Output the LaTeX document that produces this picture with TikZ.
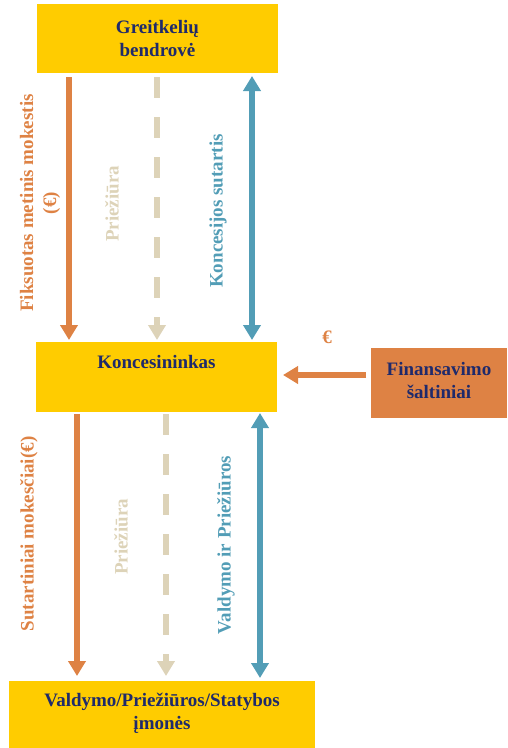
\documentclass[tikz,border=0pt]{standalone}
\usepackage{fontspec}
\setmainfont{Liberation Serif}
\usetikzlibrary{arrows.meta}
\definecolor{boxyellow}{HTML}{FFCC00}
\definecolor{navy}{HTML}{1F2A6B}
\definecolor{orng}{HTML}{DE8244}
\definecolor{beige}{HTML}{DDD3B8}
\definecolor{teal}{HTML}{529DB6}
\tikzset{
  ybox/.style={fill=boxyellow, draw=none, inner sep=0pt},
  btext/.style={font=\fontsize{19}{23}\selectfont\bfseries, text=navy, align=center, inner sep=0pt},
  lbl/.style={font=\fontsize{19}{23}\selectfont\bfseries, align=center, inner sep=0pt, rotate=90},
  arr/.style={line width=6pt, -{Triangle[width=17pt,length=15pt]}},
  darr/.style={line width=6pt, {Triangle[width=17pt,length=15pt]}-{Triangle[width=17pt,length=15pt]}},
  dasharr/.style={line width=6pt, dash pattern=on 21pt off 19pt, -{Triangle[width=17pt,length=15pt]}}
}
\begin{document}
\begin{tikzpicture}[x=1pt,y=-1pt]
\useasboundingbox (0,0) rectangle (507,748);
% boxes
\fill[boxyellow] (37,4) rectangle (278,73);
\node[btext] (gb) at (157.5,38.5) {Greitkelių\\bendrovė};
\coordinate (gbOr) at (69,77);
\coordinate (gbBe) at (157,77);
\coordinate (gbBl) at (252,76);
\fill[boxyellow] (36,342) rectangle (277,412);
\node[btext] (kon) at (156.5,362) {Koncesininkas};
\coordinate (konOrT) at (69,340);
\coordinate (konBeT) at (157,340);
\coordinate (konBlT) at (252,340);
\coordinate (konOrB) at (77,414);
\coordinate (konBeB) at (166,414);
\coordinate (konBlB) at (260,413);
\coordinate (konR) at (283,375);
\fill[boxyellow] (9,681) rectangle (315,748);
\node[btext] (vps) at (162,713) {Valdymo/Priežiūros/Statybos\\įmonės};
\coordinate (vpsOr) at (77,676);
\coordinate (vpsBe) at (166,676);
\coordinate (vpsBl) at (260,678);
\fill[orng] (371,348) rectangle (507,418);
\node[btext] (fin) at (439,380) {Finansavimo\\šaltiniai};
\coordinate (finL) at (366,375);
% arrows top
\draw[arr, orng] (gbOr) -- (konOrT);
\draw[dasharr, beige] (gbBe) -- (konBeT);
\draw[darr, teal] (gbBl) -- (konBlT);
% arrows bottom
\draw[arr, orng] (konOrB) -- (vpsOr);
\draw[dasharr, beige] (konBeB) -- (vpsBe);
\draw[darr, teal] (konBlB) -- (vpsBl);
% horizontal
\draw[arr, orng] (finL) -- (konR);
% labels
\node[lbl, text=orng] (l1) at (40,203) {Fiksuotas metinis mokestis\\(€)};
\node[lbl, text=beige] (l2) at (112,204) {Priežiūra};
\node[lbl, text=teal] (l3) at (218,211) {Koncesijos sutartis};
\node[lbl, text=orng] (l4) at (29,534) {Sutartiniai mokesčiai(€)};
\node[lbl, text=beige] (l5) at (121,537) {Priežiūra};
\node[lbl, text=teal] (l6) at (226,545) {Valdymo ir Priežiūros};
\node[font=\fontsize{19}{23}\selectfont\bfseries, text=orng, inner sep=0pt] (eur) at (327,337) {€};
\end{tikzpicture}
\end{document}
